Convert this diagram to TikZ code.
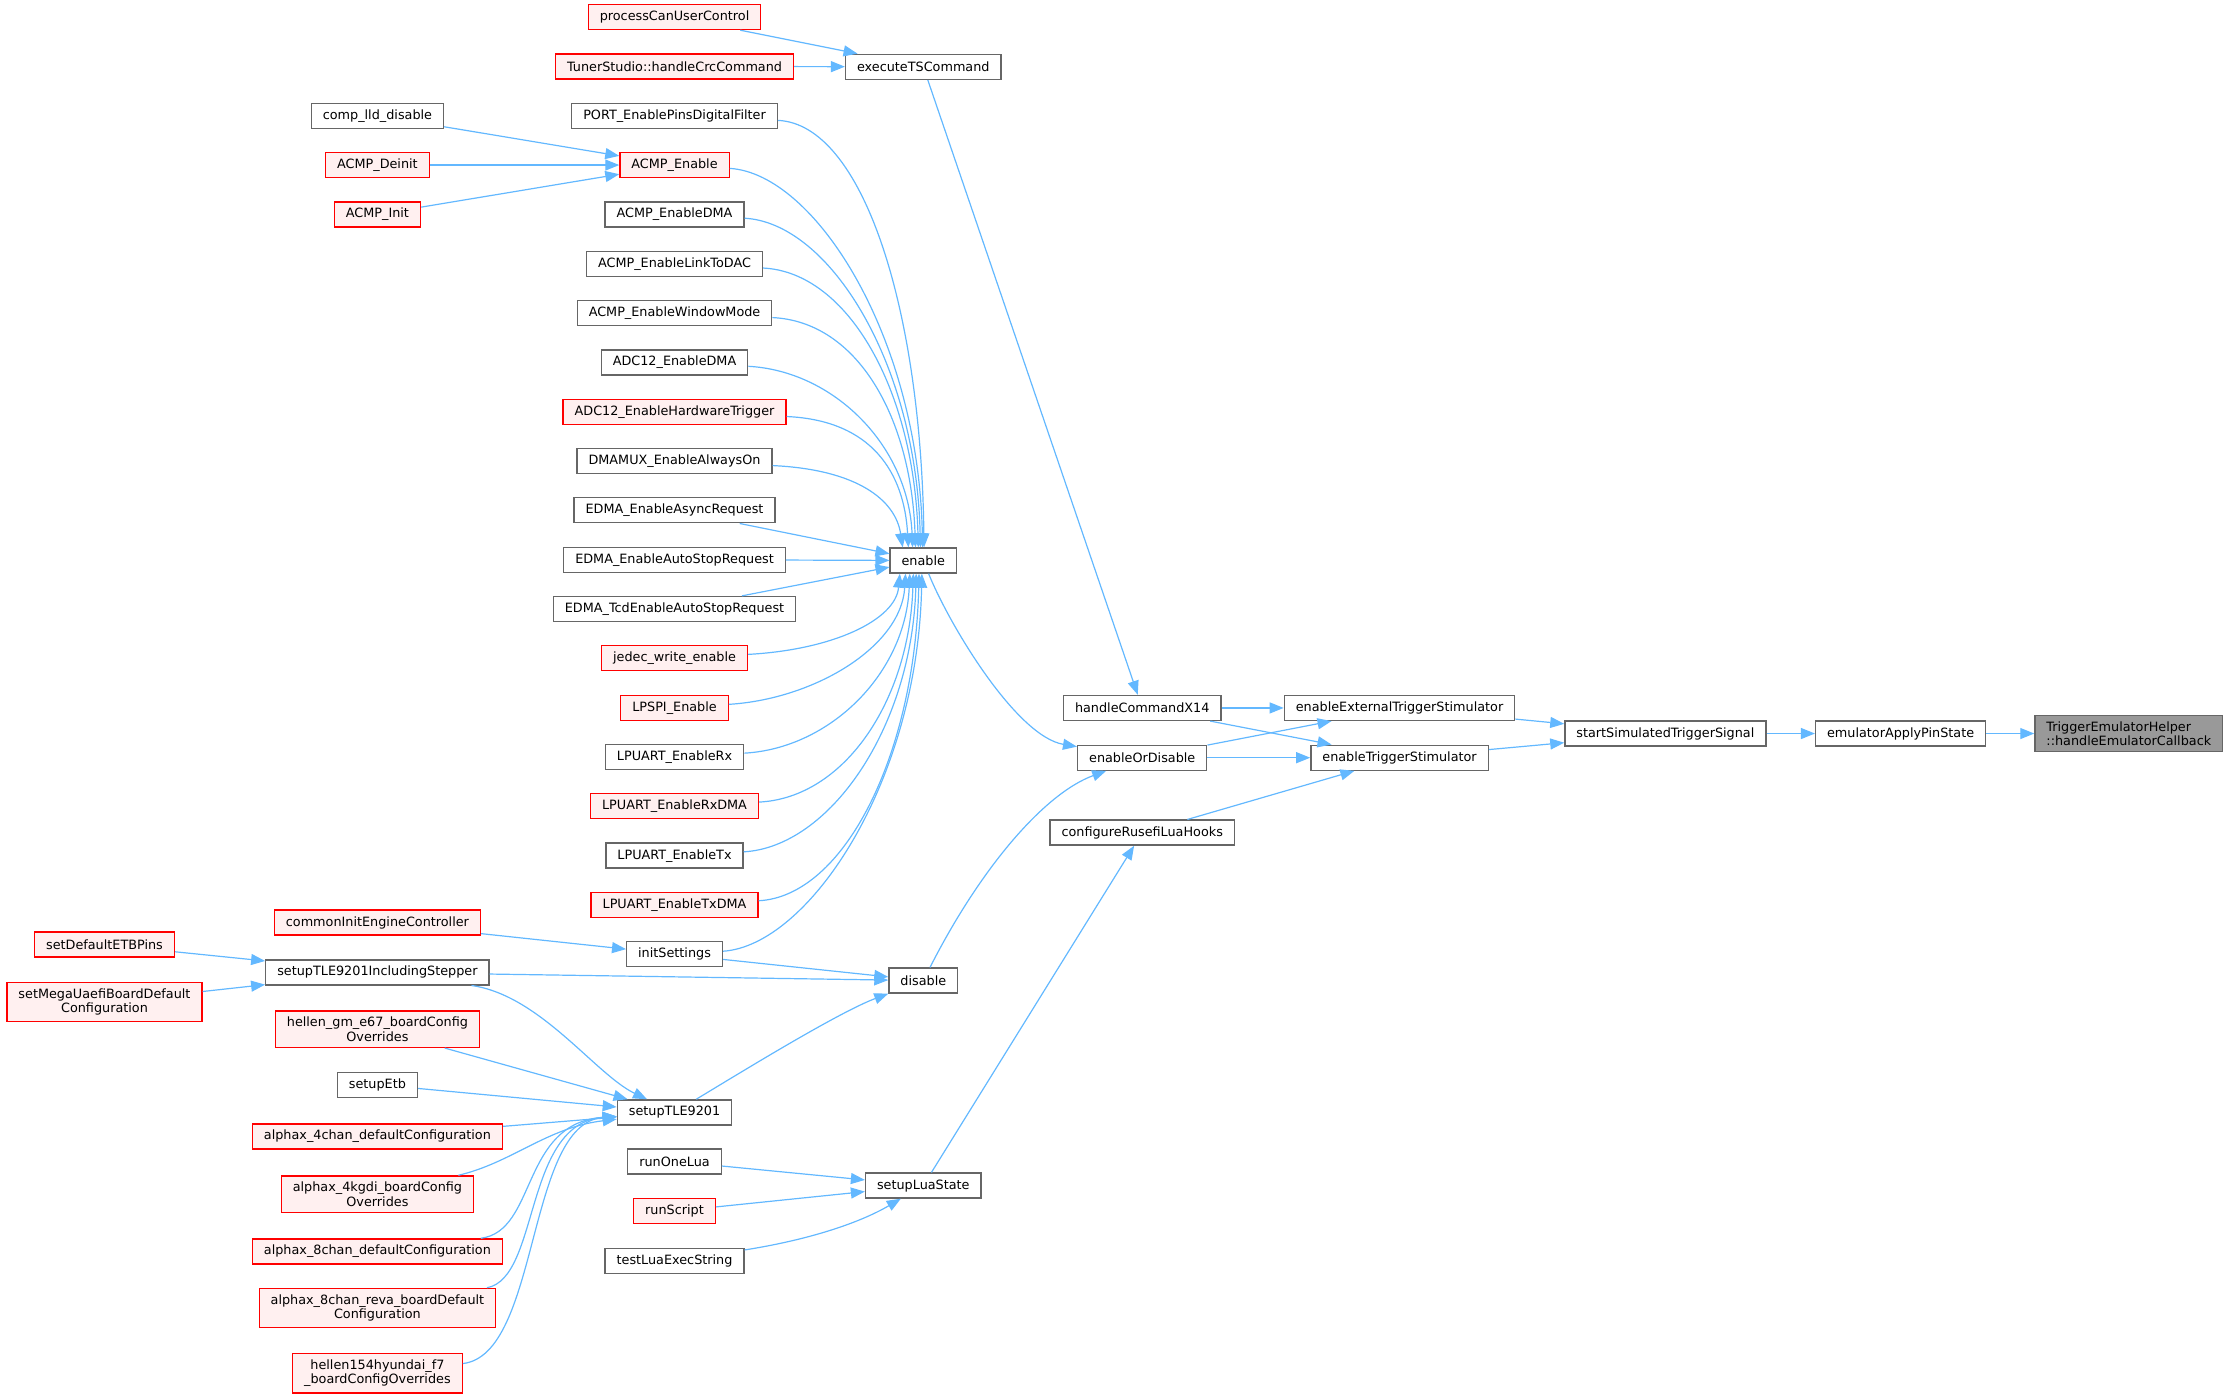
\documentclass[tikz,border=0pt]{standalone}
\usepackage{fontspec}
\setmainfont{DejaVu Sans}
\usetikzlibrary{arrows.meta,calc}
\definecolor{boxgray}{HTML}{666666}
\definecolor{callblue}{HTML}{63B8FF}
\definecolor{redfill}{HTML}{FFF0F0}
\definecolor{rootfill}{HTML}{999999}
\tikzstyle{fnbox} = [draw=boxgray, fill=white, line width=1.3pt,
    rectangle, inner xsep=11.5pt, inner ysep=6pt, minimum height=25pt,
    align=center, font=\fontsize{12.8}{14.5}\selectfont]
\tikzstyle{redbox} = [fnbox, draw=red, fill=redfill]
\tikzstyle{rootbox} = [fnbox, fill=rootfill, align=left]
\tikzstyle{callarrow} = [draw=callblue, line width=1.2pt, -{Triangle[length=14pt, width=11pt]}]

\begin{document}
\begin{tikzpicture}[x=1.4216pt, y=-1.4216pt]
\useasboundingbox (0,0) rectangle (1568,983.4);
% callers, far left
\node[redbox] (setDefaultETB) at (73.5,664.5) {setDefaultETBPins};
\node[redbox] (setMega) at (73.5,705) {setMegaUaefiBoardDefault\\Configuration};
% second column
\node[fnbox] (compDisable) at (265.5,81.4) {comp\_lld\_disable};
\node[redbox] (acmpDeinit) at (265.5,116.1) {ACMP\_Deinit};
\node[redbox] (acmpInit) at (265.5,150.8) {ACMP\_Init};
\node[redbox] (commonInit) at (265.5,649) {commonInitEngineController};
\node[fnbox] (tleStepper) at (265.5,684) {setupTLE9201IncludingStepper};
\node[redbox] (hellenGm) at (265.5,724) {hellen\_gm\_e67\_boardConfig\\Overrides};
\node[fnbox] (setupEtb) at (265.5,763) {setupEtb};
\node[redbox] (alphax4chan) at (265.5,799.5) {alphax\_4chan\_defaultConfiguration};
\node[redbox] (alphax4kgdi) at (265.5,840) {alphax\_4kgdi\_boardConfig\\Overrides};
\node[redbox] (alphax8chan) at (265.5,880.3) {alphax\_8chan\_defaultConfiguration};
\node[redbox] (alphax8reva) at (265.5,920) {alphax\_8chan\_reva\_boardDefault\\Configuration};
\node[redbox] (hellen154) at (265.5,966) {hellen154hyundai\_f7\\\_boardConfigOverrides};
% third column
\node[redbox] (processCan) at (474.5,12) {processCanUserControl};
\node[redbox] (tunerCrc) at (474.5,46.7) {TunerStudio::handleCrcCommand};
\node[fnbox] (portFilter) at (474.5,81.4) {PORT\_EnablePinsDigitalFilter};
\node[redbox] (acmpEnable) at (474.5,116.1) {ACMP\_Enable};
\node[fnbox] (acmpDMA) at (474.5,150.8) {ACMP\_EnableDMA};
\node[fnbox] (acmpLink) at (474.5,185.5) {ACMP\_EnableLinkToDAC};
\node[fnbox] (acmpWindow) at (474.5,220.2) {ACMP\_EnableWindowMode};
\node[fnbox] (adcDMA) at (474.5,254.9) {ADC12\_EnableDMA};
\node[redbox] (adcTrigger) at (474.5,289.6) {ADC12\_EnableHardwareTrigger};
\node[fnbox] (dmamuxOn) at (474.5,324.3) {DMAMUX\_EnableAlwaysOn};
\node[fnbox] (edmaAsync) at (474.5,359) {EDMA\_EnableAsyncRequest};
\node[fnbox] (edmaAutoStop) at (474.5,393.7) {EDMA\_EnableAutoStopRequest};
\node[fnbox] (edmaTcd) at (474.5,428.4) {EDMA\_TcdEnableAutoStopRequest};
\node[redbox] (jedecWrite) at (474.5,463.1) {jedec\_write\_enable};
\node[redbox] (lpspiEnable) at (474.5,497.8) {LPSPI\_Enable};
\node[fnbox] (uartRx) at (474.5,532.5) {LPUART\_EnableRx};
\node[redbox] (uartRxDMA) at (474.5,567.2) {LPUART\_EnableRxDMA};
\node[fnbox] (uartTx) at (474.5,601.9) {LPUART\_EnableTx};
\node[redbox] (uartTxDMA) at (474.5,636.6) {LPUART\_EnableTxDMA};
\node[fnbox] (initSettings) at (474.5,671.3) {initSettings};
\node[fnbox] (setupTLE) at (474.5,782.5) {setupTLE9201};
\node[fnbox] (runOneLua) at (474.5,817) {runOneLua};
\node[redbox] (runScript) at (474.5,852) {runScript};
\node[fnbox] (testLuaExec) at (474.5,887) {testLuaExecString};
% middle
\node[fnbox] (executeTS) at (649.5,47) {executeTSCommand};
\node[fnbox] (enable) at (649.5,394.3) {enable};
\node[fnbox] (disable) at (649.5,689.8) {disable};
\node[fnbox] (setupLuaState) at (649.5,834) {setupLuaState};
\node[fnbox] (handleCmd) at (803.5,498) {handleCommandX14};
\node[fnbox] (enableOrDisable) at (803.5,533) {enableOrDisable};
\node[fnbox] (configureLua) at (803.5,585.7) {configureRusefiLuaHooks};
\node[fnbox] (enableExt) at (984.5,498) {enableExternalTriggerStimulator};
\node[fnbox] (enableTrig) at (984.5,533) {enableTriggerStimulator};
% right
\node[fnbox] (startSim) at (1171.5,516) {startSimulatedTriggerSignal};
\node[fnbox] (emuApply) at (1337,516) {emulatorApplyPinState};
\node[rootbox] (root) at (1497.5,516) {TriggerEmulatorHelper\\::handleEmulatorCallback};

% calls
\draw[callarrow] (processCan) -- (executeTS);
\draw[callarrow] (tunerCrc) -- (executeTS);
\draw[callarrow] (executeTS) -- (handleCmd);
\draw[callarrow] (compDisable) -- (acmpEnable);
\draw[callarrow] (acmpDeinit) -- (acmpEnable);
\draw[callarrow] (acmpInit) -- (acmpEnable);
% fan into enable from above
\foreach \src/\dx/\cx/\cy in {portFilter/0.5/648/218, acmpEnable/-0.5/646/237,
    acmpDMA/-2/644.5/256, acmpLink/-3.5/643/275, acmpWindow/-5.5/641/294,
    adcDMA/-7.5/639/313.5, adcTrigger/-10.5/636/332.5, dmamuxOn/-14.5/630/352}
  \draw[callarrow] (\src) .. controls ($(\src.east)+(60,6)$) and (\cx,\cy) .. ($(enable.north)+(\dx,0)$);
\draw[callarrow] (edmaAsync) -- (enable);
\draw[callarrow] (edmaAutoStop) -- (enable);
\draw[callarrow] (edmaTcd) -- (enable);
% fan into enable from below
\foreach \src/\dx/\cx/\cy in {jedecWrite/-16.5/630/436, lpspiEnable/-12.5/634/455,
    uartRx/-9.5/637/474, uartRxDMA/-7/639.5/493, uartTx/-5/641.5/512.5,
    uartTxDMA/-3/643.5/531.5, initSettings/-1/645.5/550.5}
  \draw[callarrow] (\src) .. controls ($(\src.east)+(60,-6)$) and (\cx,\cy) .. ($(enable.south)+(\dx,0)$);
\draw[callarrow] (commonInit) -- (initSettings);
\draw[callarrow] (initSettings) -- (disable);
\draw[callarrow] (tleStepper) -- (disable);
\draw[callarrow] (setupTLE) .. controls (520,755) and (590,712) .. (disable);
\draw[callarrow] (setDefaultETB) -- (tleStepper);
\draw[callarrow] (setMega) -- (tleStepper);
% fan into setupTLE9201
\draw[callarrow] (tleStepper) .. controls (380,700) and (419,756) .. (setupTLE);
\draw[callarrow] (hellenGm) -- (setupTLE);
\draw[callarrow] (setupEtb) -- (setupTLE);
\draw[callarrow] (alphax4chan) -- (setupTLE);
\draw[callarrow] (alphax4kgdi) .. controls (360,818) and (385,793) .. (setupTLE);
\draw[callarrow] (alphax8chan) .. controls (378,866) and (366,790) .. (setupTLE);
\draw[callarrow] (alphax8reva) .. controls (380,899) and (368,790) .. (setupTLE);
\draw[callarrow] (hellen154) .. controls (380,953) and (370,790) .. (setupTLE);
% lua
\draw[callarrow] (runOneLua) -- (setupLuaState);
\draw[callarrow] (runScript) -- (setupLuaState);
\draw[callarrow] (testLuaExec) .. controls (570,872) and (605,860) .. (setupLuaState);
\draw[callarrow] (setupLuaState) -- (configureLua);
% middle to right
\draw[callarrow] (enable) .. controls (668,440) and (715,518) .. (enableOrDisable);
\draw[callarrow] (disable) .. controls (690,610) and (735,558) .. (enableOrDisable);
\draw[callarrow] (handleCmd) -- (enableExt);
\draw[callarrow] (handleCmd) -- (enableTrig);
\draw[callarrow] (enableOrDisable) -- (enableExt);
\draw[callarrow] (enableOrDisable) -- (enableTrig);
\draw[callarrow] (configureLua) -- (enableTrig);
\draw[callarrow] (enableExt) -- (startSim);
\draw[callarrow] (enableTrig) -- (startSim);
\draw[callarrow] (startSim) -- (emuApply);
\draw[callarrow] (emuApply) -- (root);
\end{tikzpicture}
\end{document}
